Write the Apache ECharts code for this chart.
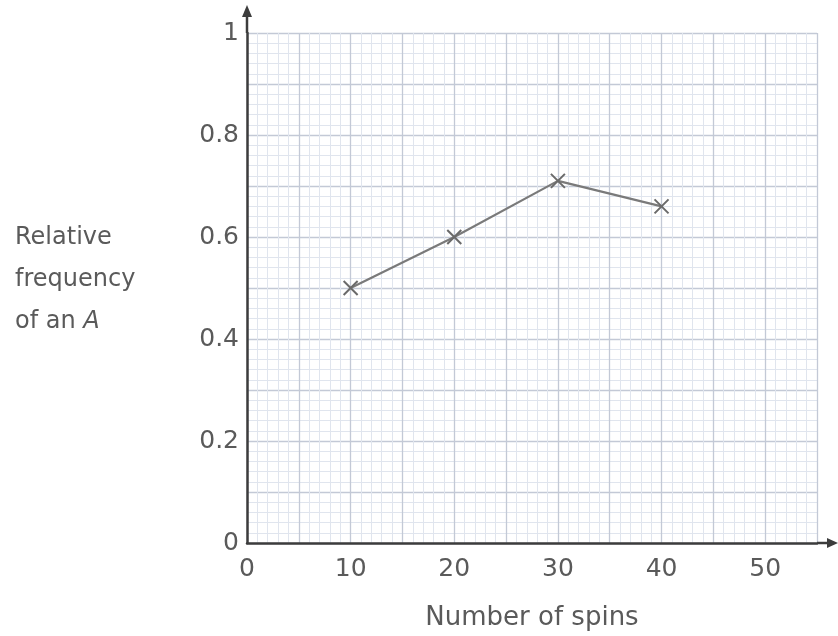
<!DOCTYPE html>
<html>
<head>
<meta charset="utf-8">
<script src="https://cdn.jsdelivr.net/npm/echarts@6/dist/echarts.min.js"></script>
<style>
html,body{margin:0;padding:0;background:#fff;}
#chart{width:838px;height:636px;}
</style>
</head>
<body>
<div id="chart"></div>
<script>
// Data
const spins = [10, 20, 30, 40];
const relFreq = [0.5, 0.6, 0.71, 0.66];
const xTickLabels = ['0', '10', '20', '30', '40', '50'];
const yTickLabels = ['0', '0.2', '0.4', '0.6', '0.8', '1'];
const xAxisTitle = 'Number of spins';
const yAxisTitleLines = ['Relative', 'frequency', 'of an '];
const yAxisTitleItalic = 'A';

const FONT = 'DejaVu Sans';
const TXT = '#5a5a5a';

const chart = echarts.init(document.getElementById('chart'), null, {renderer: 'canvas'});

const option = {
  backgroundColor: '#ffffff',
  animation: false,
  textStyle: {fontFamily: FONT},
  grid: {left: 247, right: 21, top: 33, bottom: 91, containLabel: false},
  title: {
    left: 10, top: 212,
    text: '{n|' + yAxisTitleLines[0] + '}\n{n|' + yAxisTitleLines[1] + '}\n{n|' + yAxisTitleLines[2] + '}{i|' + yAxisTitleItalic + '}',
    textStyle: {
      fontWeight: 'normal',
      rich: {
        n: {fontFamily: FONT, fontSize: 24, fontWeight: 'normal', color: TXT, lineHeight: 42},
        i: {fontFamily: FONT, fontSize: 24, fontWeight: 'normal', color: TXT, fontStyle: 'italic', lineHeight: 42}
      }
    }
  },
  xAxis: {
    type: 'value', min: 0, max: 55, interval: 5,
    name: xAxisTitle, nameLocation: 'middle', nameGap: 62,
    nameTextStyle: {fontFamily: FONT, fontSize: 26, color: TXT},
    axisLine: {show: true, onZero: false, lineStyle: {color: '#3c3c3c', width: 2.5}},
    axisTick: {show: false},
    minorTick: {show: false, splitNumber: 5},
    axisLabel: {
      margin: 14, fontFamily: FONT, fontSize: 25, color: TXT,
      formatter: function (v) {
        const k = Math.round(v / 10);
        return (Math.abs(v - k * 10) < 1e-6 && k < xTickLabels.length) ? xTickLabels[k] : '';
      }
    },
    splitLine: {show: true, lineStyle: {color: '#c3c9d6', width: 1.3}},
    minorSplitLine: {show: true, lineStyle: {color: '#e0e5ee', width: 1}}
  },
  yAxis: {
    type: 'value', min: 0, max: 1, interval: 0.1,
    axisLine: {show: true, onZero: false, lineStyle: {color: '#3c3c3c', width: 2.5}},
    axisTick: {show: false},
    minorTick: {show: false, splitNumber: 5},
    axisLabel: {
      margin: 8, fontFamily: FONT, fontSize: 25, color: TXT, padding: [14, 0, 0, 0],
      formatter: function (v) {
        const k = Math.round(v * 5);
        return (Math.abs(v - k / 5) < 1e-6 && k < yTickLabels.length) ? yTickLabels[k] : '';
      }
    },
    splitLine: {show: true, lineStyle: {color: '#c3c9d6', width: 1.3}},
    minorSplitLine: {show: true, lineStyle: {color: '#e0e5ee', width: 1}}
  },
  series: [{
    type: 'line',
    data: spins.map((x, i) => [x, relFreq[i]]),
    lineStyle: {color: '#7a7a7a', width: 2.2},
    symbol: 'path://M0,0L10,10M10,0L0,10',
    symbolSize: 14,
    itemStyle: {color: 'transparent', borderColor: '#6a6a6a', borderWidth: 2},
    z: 5
  }]
};
chart.setOption(option);

// axis arrows extending beyond plot area
const yTop = chart.convertToPixel({gridIndex: 0}, [0, 1]);
const xEnd = chart.convertToPixel({gridIndex: 0}, [55, 0]);
chart.setOption({
  graphic: [
    {type: 'line', shape: {x1: yTop[0], y1: yTop[1], x2: yTop[0], y2: yTop[1] - 20}, style: {stroke: '#3c3c3c', lineWidth: 2.5}},
    {type: 'polygon', shape: {points: [[yTop[0] - 5, yTop[1] - 16], [yTop[0] + 5, yTop[1] - 16], [yTop[0], yTop[1] - 28]]}, style: {fill: '#3c3c3c'}},
    {type: 'line', shape: {x1: xEnd[0], y1: xEnd[1], x2: xEnd[0] + 14, y2: xEnd[1]}, style: {stroke: '#3c3c3c', lineWidth: 2.5}},
    {type: 'polygon', shape: {points: [[xEnd[0] + 10, xEnd[1] - 5], [xEnd[0] + 10, xEnd[1] + 5], [xEnd[0] + 21, xEnd[1]]]}, style: {fill: '#3c3c3c'}}
  ]
});
</script>
</body>
</html>
